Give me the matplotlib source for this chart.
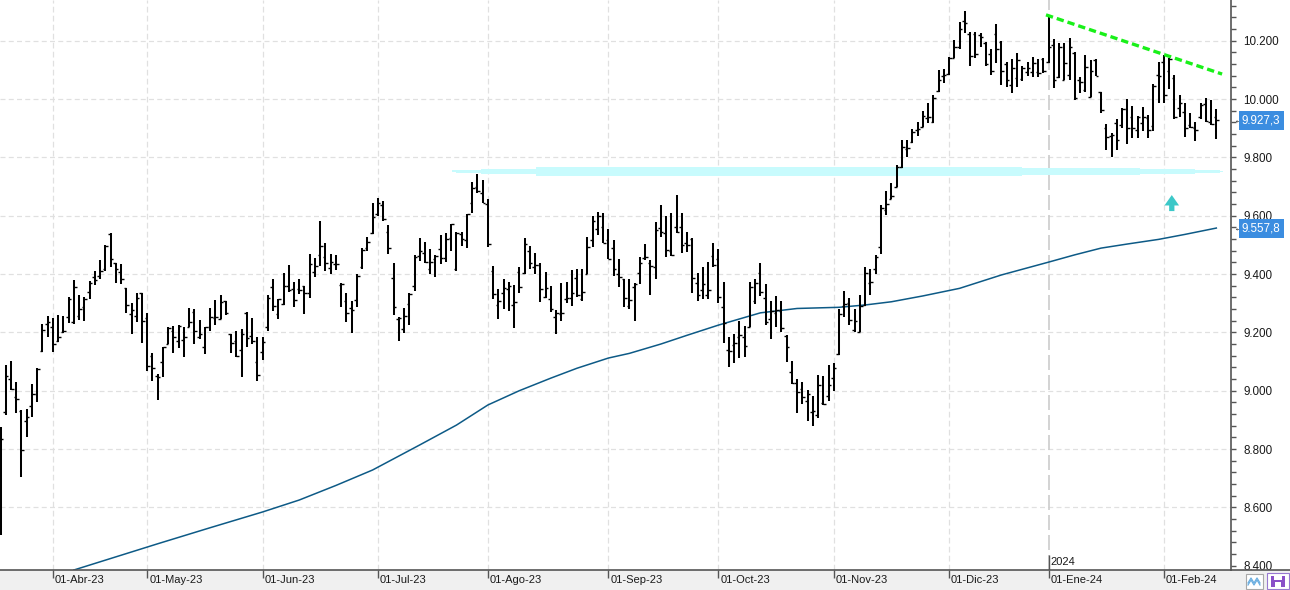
import numpy as np
import pandas as pd
import matplotlib
matplotlib.use("Agg")
import matplotlib.pyplot as plt
from matplotlib.patches import Rectangle
from matplotlib.ticker import MultipleLocator, FuncFormatter, FixedLocator
import matplotlib.transforms as mtransforms

plt.rcParams['font.family'] = ['Liberation Sans', 'DejaVu Sans']

# trading days (BME holidays removed)
holidays = ["2023-04-07", "2023-04-10", "2023-05-01", "2023-12-25", "2023-12-26", "2024-01-01"]
dates = pd.bdate_range("2023-03-20", "2024-02-15")
dates = dates[~dates.isin(pd.to_datetime(holidays))]

opens = [8728, 8928, 9039, 8978, 8931, 8897, 8947, 8988, 9137, 9230,
         9217, 9171, 9202, 9252, 9237, 9257, 9286, 9337, 9389, 9393,
         9417, 9537, 9437, 9408, 9351, 9263, 9257, 9334, 9248, 9119,
         9051, 9097, 9160, 9206, 9171, 9174, 9219, 9269, 9185, 9149,
         9217, 9248, 9246, 9308, 9193, 9171, 9140, 9265, 9189, 9097,
         9132, 9217, 9355, 9263, 9296, 9359, 9348, 9349, 9359, 9334,
         9408, 9465, 9460, 9420, 9434, 9364, 9308, 9285, 9311, 9423,
         9488, 9542, 9606, 9637, 9545, 9385, 9247, 9211, 9296, 9359,
         9462, 9471, 9416, 9451, 9485, 9454, 9523, 9417, 9537, 9517,
         9645, 9700, 9677, 9640, 9411, 9294, 9334, 9348, 9294, 9408,
         9405, 9480, 9423, 9431, 9322, 9313, 9254, 9262, 9313, 9317,
         9385, 9313, 9400, 9517, 9553, 9560, 9517, 9488, 9400, 9382,
         9290, 9357, 9405, 9455, 9437, 9423, 9558, 9540, 9480, 9560,
         9560, 9505, 9520, 9368, 9345, 9328, 9462, 9451, 9286, 9140,
         9158, 9185, 9183, 9217, 9309, 9405, 9317, 9245, 9265, 9274,
         9188, 9065, 9027, 9005, 8966, 8926, 8917, 8957, 8982, 9042,
         9125, 9290, 9300, 9208, 9202, 9294, 9368, 9416, 9494, 9620,
         9657, 9698, 9766, 9828, 9854, 9894, 9905, 9936, 9923, 10029,
         10079, 10086, 10140, 10178, 10269, 10225, 10225, 10220, 10191, 10155,
         10225, 10196, 10120, 10048, 10071, 10068, 10093, 10094, 10094, 10137,
         10128, 10185, 10075, 10066, 10083, 10157, 10066, 10031, 10006, 10134,
         10025, 9901, 9874, 9917, 9911, 9967, 9940, 9894, 9917, 9934,
         9908, 10083, 10127, 10097, 10072, 9970, 9956, 9911, 9900, 9940,
         9983, 9922, 9940]
highs = [8875, 9088, 9102, 9029, 8934, 8937, 9023, 9077, 9229, 9256,
         9248, 9260, 9256, 9322, 9380, 9328, 9322, 9376, 9412, 9448,
         9500, 9542, 9437, 9435, 9351, 9300, 9334, 9334, 9265, 9130,
         9057, 9151, 9219, 9222, 9225, 9217, 9283, 9279, 9242, 9219,
         9283, 9311, 9328, 9308, 9193, 9206, 9210, 9271, 9248, 9183,
         9183, 9328, 9383, 9314, 9403, 9431, 9374, 9383, 9359, 9469,
         9455, 9583, 9508, 9469, 9465, 9368, 9334, 9308, 9400, 9488,
         9526, 9645, 9660, 9652, 9568, 9437, 9254, 9285, 9334, 9465,
         9523, 9511, 9485, 9465, 9534, 9540, 9572, 9545, 9543, 9606,
         9717, 9743, 9723, 9656, 9428, 9348, 9382, 9374, 9362, 9423,
         9523, 9496, 9473, 9437, 9408, 9359, 9277, 9368, 9374, 9414,
         9416, 9416, 9526, 9599, 9614, 9608, 9553, 9517, 9451, 9382,
         9382, 9368, 9457, 9503, 9448, 9579, 9637, 9600, 9610, 9670,
         9610, 9545, 9523, 9405, 9423, 9442, 9508, 9485, 9374, 9185,
         9194, 9240, 9222, 9374, 9382, 9439, 9366, 9309, 9325, 9309,
         9191, 9102, 9039, 9029, 9002, 8982, 9054, 9050, 9088, 9094,
         9279, 9343, 9317, 9279, 9328, 9423, 9416, 9465, 9637, 9686,
         9711, 9774, 9860, 9860, 9896, 9922, 9959, 9988, 10014, 10100,
         10102, 10143, 10203, 10264, 10302, 10231, 10229, 10226, 10197, 10171,
         10258, 10200, 10128, 10136, 10157, 10114, 10128, 10143, 10136, 10140,
         10288, 10205, 10191, 10193, 10208, 10163, 10077, 10151, 10134, 10136,
         10025, 9914, 9883, 9931, 9968, 9999, 9976, 9942, 9972, 9946,
         10052, 10128, 10151, 10140, 10083, 10014, 9986, 9951, 9922, 9986,
         10003, 9997, 9965]
lows = [8505, 8917, 9002, 8922, 8705, 8842, 8911, 8962, 9134, 9185,
        9134, 9168, 9197, 9233, 9228, 9242, 9240, 9315, 9361, 9382,
        9412, 9425, 9368, 9366, 9267, 9193, 9237, 9162, 9069, 9034,
        8968, 9048, 9160, 9130, 9145, 9117, 9217, 9160, 9176, 9126,
        9206, 9225, 9245, 9260, 9130, 9117, 9048, 9149, 9160, 9034,
        9105, 9206, 9274, 9245, 9294, 9339, 9288, 9331, 9262, 9317,
        9391, 9429, 9412, 9400, 9414, 9286, 9237, 9199, 9288, 9416,
        9480, 9537, 9600, 9583, 9469, 9260, 9171, 9199, 9225, 9343,
        9446, 9439, 9400, 9389, 9434, 9442, 9480, 9412, 9497, 9490,
        9610, 9679, 9643, 9492, 9313, 9245, 9279, 9274, 9214, 9334,
        9400, 9416, 9400, 9305, 9317, 9271, 9194, 9240, 9302, 9290,
        9322, 9309, 9400, 9492, 9534, 9505, 9450, 9393, 9355, 9288,
        9279, 9240, 9366, 9448, 9328, 9382, 9526, 9457, 9462, 9540,
        9473, 9477, 9336, 9309, 9313, 9313, 9423, 9302, 9164, 9080,
        9096, 9111, 9114, 9217, 9297, 9325, 9225, 9176, 9219, 9202,
        9099, 9023, 8922, 8953, 8897, 8879, 8905, 8951, 8966, 9000,
        9122, 9252, 9225, 9202, 9202, 9290, 9328, 9400, 9469, 9603,
        9656, 9698, 9763, 9802, 9848, 9873, 9903, 9919, 9919, 10025,
        10054, 10083, 10140, 10171, 10228, 10113, 10140, 10178, 10113, 10083,
        10123, 10048, 10040, 10022, 10040, 10063, 10079, 10075, 10075, 10091,
        10125, 10037, 10071, 10066, 10066, 9997, 10020, 10025, 10006, 10079,
        9953, 9825, 9800, 9825, 9900, 9846, 9866, 9866, 9892, 9866,
        9892, 9986, 9986, 10034, 9931, 9938, 9871, 9900, 9857, 9931,
        9922, 9911, 9862]
closes = [8833, 9050, 9007, 8971, 8796, 8909, 8988, 9074, 9208, 9235,
          9160, 9183, 9205, 9313, 9357, 9279, 9313, 9368, 9380, 9412,
          9497, 9452, 9416, 9383, 9294, 9277, 9317, 9240, 9085, 9077,
          9046, 9151, 9216, 9183, 9222, 9183, 9237, 9206, 9194, 9217,
          9252, 9252, 9305, 9267, 9165, 9119, 9194, 9180, 9171, 9054,
          9168, 9317, 9290, 9314, 9360, 9345, 9311, 9345, 9336, 9434,
          9429, 9496, 9438, 9440, 9436, 9366, 9265, 9277, 9393, 9482,
          9511, 9595, 9645, 9588, 9488, 9286, 9248, 9257, 9331, 9457,
          9479, 9441, 9442, 9462, 9454, 9520, 9572, 9542, 9519, 9605,
          9694, 9686, 9643, 9503, 9332, 9309, 9353, 9359, 9305, 9355,
          9503, 9439, 9431, 9348, 9351, 9279, 9265, 9268, 9317, 9334,
          9328, 9340, 9492, 9583, 9599, 9505, 9450, 9416, 9391, 9317,
          9311, 9366, 9437, 9460, 9428, 9551, 9545, 9482, 9465, 9545,
          9500, 9500, 9386, 9328, 9366, 9345, 9431, 9320, 9233, 9137,
          9162, 9190, 9153, 9355, 9368, 9339, 9237, 9274, 9277, 9214,
          9149, 9027, 8996, 8977, 8989, 8930, 9019, 8954, 9019, 9077,
          9262, 9296, 9242, 9240, 9290, 9405, 9374, 9459, 9625, 9640,
          9668, 9766, 9837, 9831, 9888, 9896, 9943, 9940, 10003, 10066,
          10083, 10140, 10178, 10240, 10260, 10148, 10155, 10214, 10120, 10097,
          10171, 10097, 10066, 10106, 10134, 10106, 10106, 10123, 10091, 10097,
          10180, 10066, 10180, 10125, 10179, 10004, 10060, 10111, 10097, 10079,
          9963, 9871, 9877, 9860, 9967, 9900, 9900, 9937, 9940, 9894,
          10045, 10079, 10014, 10137, 9940, 9988, 9900, 9905, 9894, 9980,
          9926, 9914, 9927.3]

# 200-session moving average, read at sample sessions
ma_idx = [14, 22, 30, 40, 50, 57, 64, 71, 80, 87, 93, 99, 105, 110, 116, 120, 126,
          131, 137, 145, 152, 160, 165, 170, 176, 183, 191, 200, 205, 210,
          215, 221, 226, 232]
ma_val = [8385, 8430, 8475, 8530, 8584, 8625, 8675, 8728, 8814, 8882, 8951, 9000,
          9043, 9077, 9112, 9128, 9160, 9190, 9225, 9267, 9282, 9286, 9294,
          9305, 9325, 9351, 9397, 9441, 9466, 9489, 9503, 9519, 9536, 9557.8]

band_level = 9752
trend_x = [199.5, 233.1]
trend_y = [10289, 10086]

meses = ["Ene", "Feb", "Mar", "Abr", "May", "Jun", "Jul", "Ago", "Sep", "Oct", "Nov", "Dic"]

n = len(closes)
x = np.arange(n)

fig = plt.figure(figsize=(12.9, 5.9), dpi=100)
fig.patches.append(Rectangle((0, 0), 1, 20 / 590, transform=fig.transFigure,
                             facecolor="#f0f0f0", edgecolor="none", zorder=-5))
ax = fig.add_axes([0, 20 / 590, 1231 / 1290, 570 / 590])
ax.set_xlim(-0.1, 234.8)
ax.set_ylim(8385, 10340)

# grid
for v in range(8600, 10201, 200):
    ax.axhline(v, color="#e0e0e0", lw=0.9, dashes=(4, 2.6), zorder=0)
s = pd.Series(np.arange(n), index=dates)
first_days = s.groupby([dates.year, dates.month]).first()
month_pos = list(first_days.values[1:])
month_lab = ["01-%s-%s" % (meses[m - 1], str(y)[2:]) for (y, m) in first_days.index[1:]]
for p, lab in zip(month_pos, month_lab):
    if lab.startswith("01-Ene"):
        ax.axvline(p, color="#cccccc", lw=1.2, dashes=(9, 3), zorder=0)
    else:
        ax.axvline(p, color="#e0e0e0", lw=0.9, dashes=(4.6, 2.6), zorder=0)

# highlighted support band
edges = [86.2, 86.9, 91.7, 102.2, 194.9, 217.5, 227.9, 232.7, 233.3]
half = [3.4, 5.7, 8, 15.4, 11.5, 8, 4.6, 2.6, 2.6]
ax.fill_between(edges, [band_level - h for h in half], [band_level + h for h in half],
                step="post", color="#c8fbfd", lw=0, zorder=1)

# moving average
ax.plot(ma_idx, ma_val, color="#0d5a86", lw=1.1, zorder=2)

# OHLC bars
ax.vlines(x, lows, highs, color="black", lw=1.45, zorder=3)
ax.hlines(opens, x - 0.5, x, color="black", lw=1.0, zorder=3)
ax.hlines(closes, x, x + 0.5, color="black", lw=1.0, zorder=3)

# trend line and arrow
ax.plot(trend_x, trend_y, color="#19f019", lw=2.4, dashes=(2.2, 1.2), zorder=4)
ax.annotate("", xy=(223.5, 9671), xytext=(223.5, 9616),
            arrowprops=dict(arrowstyle="simple,head_length=0.75,head_width=1.05,tail_width=0.38",
                            fc="#3cc8c8", ec="none", mutation_scale=10, shrinkA=0, shrinkB=0))

# axes styling
for sp in ["top", "left"]:
    ax.spines[sp].set_visible(False)
ax.spines["right"].set_color("#555555")
ax.spines["right"].set_linewidth(1.2)
ax.spines["bottom"].set_color("#555555")
ax.spines["bottom"].set_linewidth(1.2)

ax.yaxis.tick_right()
ax.yaxis.set_major_locator(MultipleLocator(200))
ax.yaxis.set_minor_locator(MultipleLocator(40))
ax.yaxis.set_major_formatter(FuncFormatter(lambda v, p: f"{v:,.0f}".replace(",", ".")))
ax.tick_params(axis="y", which="both", direction="out", length=3.8, width=1,
               color="#555555", labelsize=8.4, pad=5, labelcolor="#1a1a1a")

ax.xaxis.set_major_locator(FixedLocator(month_pos))
ax.tick_params(axis="x", direction="out", length=5.5, width=1, color="#555555",
               labelbottom=False)
off = mtransforms.offset_copy(ax.get_xaxis_transform(), fig=fig, x=2, y=-10, units="dots")
for p, lab in zip(month_pos, month_lab):
    ax.text(p, 0, lab, transform=off, ha="left", va="center", fontsize=8,
            color="#1a1a1a", clip_on=False)

# year marker
ax.vlines(200, 8385, 8436, color="#555555", lw=1.0, zorder=4)
ax.text(200.4, 8412, "2024", fontsize=8, color="#1a1a1a", ha="left", va="center")

# last value boxes
yax = mtransforms.offset_copy(ax.get_yaxis_transform(), fig=fig, x=11, y=0, units="dots")
arr = mtransforms.offset_copy(ax.get_yaxis_transform(), fig=fig, x=2, y=0, units="dots")
for val in [closes[-1], ma_val[-1]]:
    txt = f"{val:,.1f}".replace(",", "X").replace(".", ",").replace("X", ".")
    ax.text(1, val, txt, transform=yax, ha="left", va="center", fontsize=8.4,
            color="white", clip_on=False, zorder=10,
            bbox=dict(boxstyle="square,pad=0.3", fc="#3b8de0", ec="none"))
    ax.text(1, val, "\u2190", transform=arr, ha="left", va="center", fontsize=7,
            color="#333333", clip_on=False)

# bottom strip line and icons
over = fig.add_axes([0, 0, 1, 1], zorder=5)
over.set_xlim(0, 1290)
over.set_ylim(590, 0)
over.axis("off")
over.patch.set_alpha(0)
over.plot([1231, 1290], [570, 570], color="#555555", lw=1.2)
over.add_patch(Rectangle((1245.5, 574), 17, 14.5, fc="white", ec="#a8a8a8", lw=0.8))
over.plot([1248, 1251, 1254, 1257, 1260], [583, 578, 583, 578, 583], color="#6aaee0", lw=0.9)
over.plot([1248, 1251, 1254, 1257, 1260], [585, 580, 585, 580, 585], color="#6aaee0", lw=0.9)
over.add_patch(Rectangle((1267, 573), 22, 16, fc="white", ec="#9878d0", lw=0.8))
over.add_patch(Rectangle((1271, 576), 14, 11, fc="#8a4fc8", ec="none"))
over.add_patch(Rectangle((1274, 576), 8, 4, fc="white", ec="none"))
over.add_patch(Rectangle((1275, 582), 6, 5, fc="white", ec="none"))

fig.savefig("out.png", dpi=100)
